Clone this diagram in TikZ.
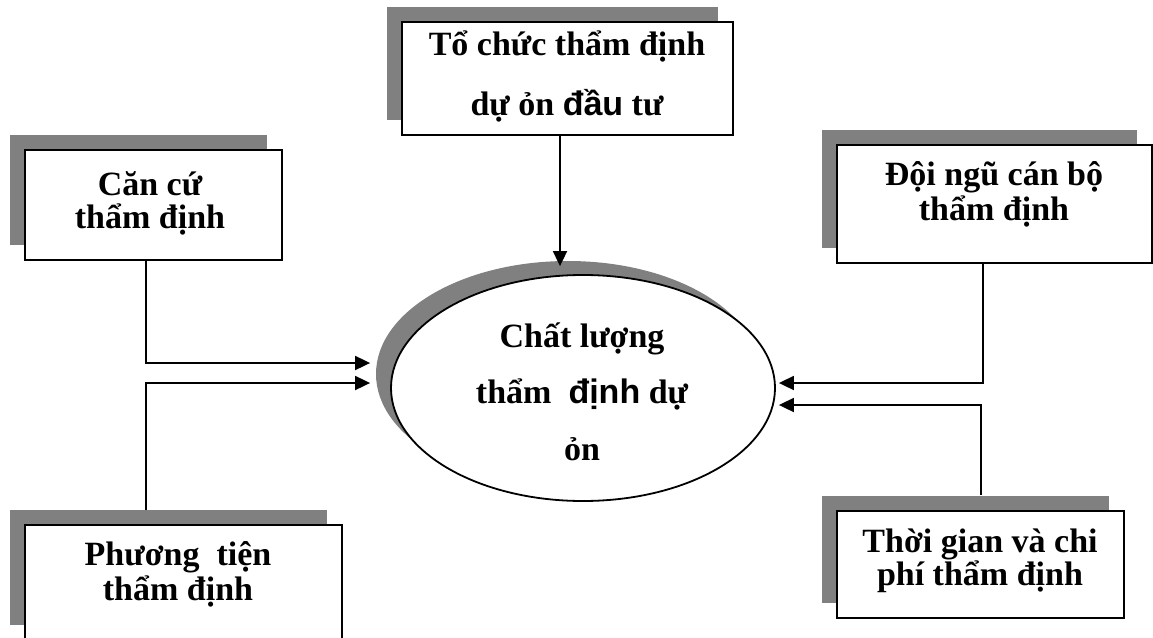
\documentclass[tikz,border=0pt]{standalone}
\usepackage{fontspec}
\setmainfont{Liberation Serif}
\newfontfamily\arialfont{Liberation Sans}
\usetikzlibrary{shapes.geometric,shadows,arrows.meta,calc}
\definecolor{shade}{HTML}{808080}
\begin{document}
\begin{tikzpicture}[x=1pt,y=-1pt,
  box/.style={draw=black,line width=2pt,fill=white,rectangle,inner sep=0pt,
    drop shadow={shadow xshift=-15pt,shadow yshift=15pt,fill=shade,opacity=1}},
  lbl/.style={font=\fontsize{34}{33}\selectfont\bfseries,align=center,anchor=base,inner sep=0pt},
  arr/.style={line width=1.8pt,-{Triangle[length=15pt,width=14pt]}},
  con/.style={line width=1.8pt}]
\useasboundingbox (0,0) rectangle (1153,637);
\fill[white] (0,0) rectangle (1153,637);
% boxes
\node[box,minimum width=331pt,minimum height=113pt] (top) at (567.5,78.5) {};
\node[box,minimum width=257pt,minimum height=110pt] (can) at (153.5,205) {};
\node[box,minimum width=317pt,minimum height=115pt] (ph) at (183.5,582.5) {};
\node[box,minimum width=315pt,minimum height=118pt] (doi) at (994.5,204) {};
\node[box,minimum width=287pt,minimum height=107pt] (thoi) at (980.5,564.5) {};
% ellipse
\node[ellipse,draw=black,line width=1.8pt,fill=white,inner sep=0pt,
  minimum width=384pt,minimum height=226pt,
  drop shadow={shadow xshift=-15pt,shadow yshift=14pt,fill=shade,opacity=1}] (ell) at (583,388) {};
% texts (base anchor = last line's baseline)
\node[lbl,font=\fontsize{34}{60}\selectfont\bfseries] (ttop) at (567,115) {Tổ chức thẩm định\\dự ỏn {\arialfont\bfseries đầu} tư};
\node[lbl] (tcan) at (150,228) {Căn cứ\\thẩm định};
\node[lbl,font=\fontsize{34}{35}\selectfont\bfseries] (tph) at (178,600) {Phương~~tiện\\thẩm định};
\node[lbl,font=\fontsize{34}{35}\selectfont\bfseries] (tdoi) at (994,220) {Đội ngũ cán bộ\\thẩm định};
\node[lbl] (tthoi) at (980,585) {Thời gian và chi\\phí thẩm định};
\node[lbl,font=\fontsize{34}{56.5}\selectfont\bfseries] (tell) at (582,460) {Chất lượng\\thẩm~~{\arialfont\bfseries định} dự\\ỏn};
% connectors
\draw[arr] ([xshift=-7.5pt]top.south) -- ($(ell.north)+(-23,-8)$);
\draw[arr] ([xshift=-7.5pt]can.south) |- ($(ell.west)+(-20,-25)$);
\draw[arr] ([xshift=-37.5pt,yshift=14pt]ph.north) |- ($(ell.west)+(-20,-5)$);
\draw[arr] ([xshift=-11.5pt]doi.south) |- ($(ell.east)+(3,-5)$);
\draw[arr] ([xshift=0.5pt,yshift=15pt]thoi.north) |- ($(ell.east)+(3,17)$);
\end{tikzpicture}
\end{document}
